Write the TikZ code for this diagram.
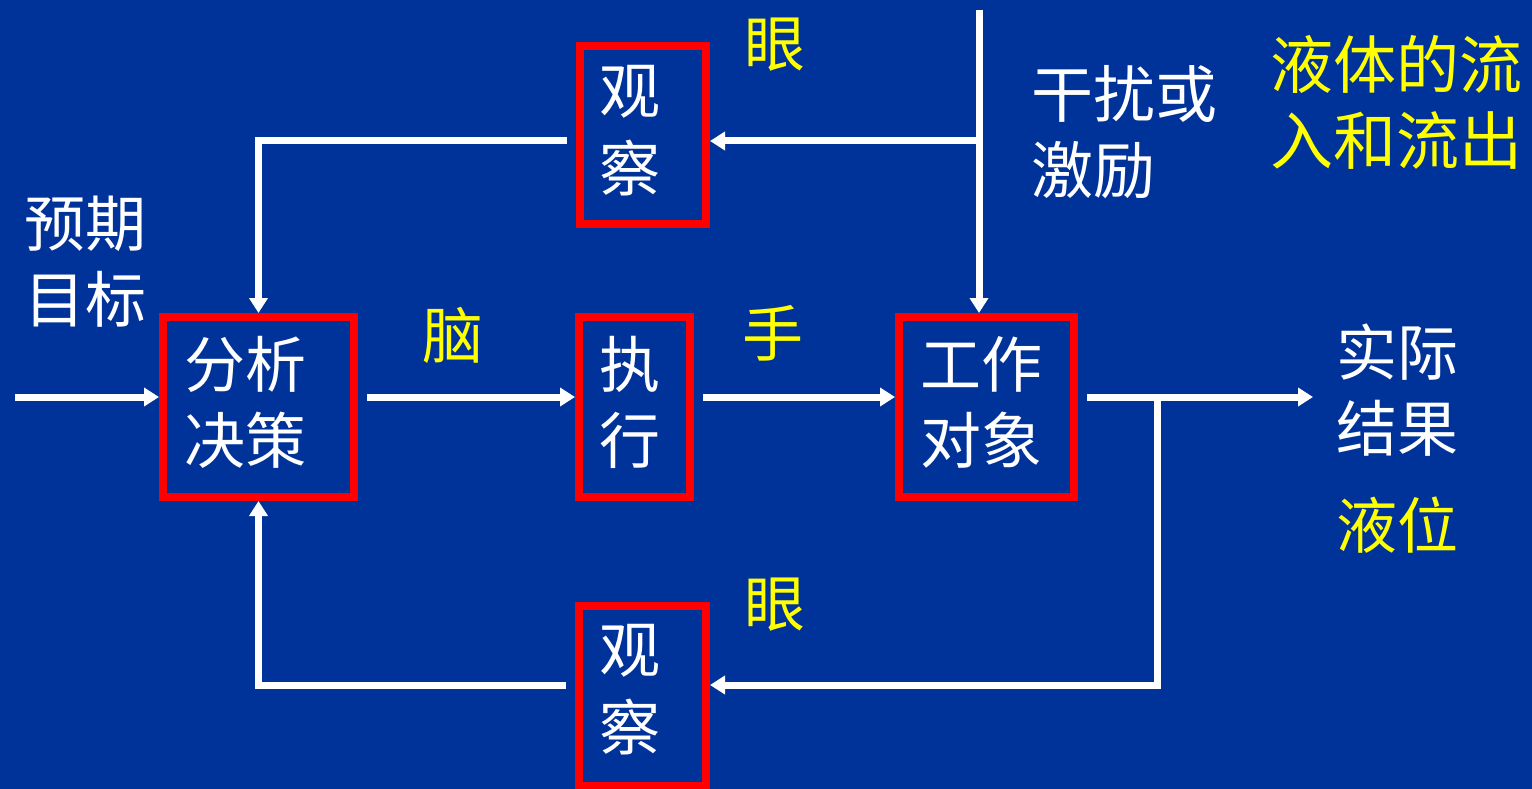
\documentclass[tikz,border=0pt]{standalone}
\usepackage{fontspec}
\newfontfamily\cjk{Noto Sans CJK SC}
\usetikzlibrary{arrows.meta}
\definecolor{bgblue}{HTML}{003399}
\definecolor{boxred}{HTML}{FF0000}
\definecolor{txtyellow}{HTML}{FFFF00}
\tikzset{
  redbox/.style={draw=boxred, line width=8pt, rectangle, inner sep=0pt},
  wline/.style={draw=white, line width=7pt, line join=miter},
  warrow/.style={wline, -{Triangle[length=15pt,width=18pt]}},
  wtext/.style={text=white, font=\cjk\fontsize{61}{76}\selectfont, inner sep=0pt},
  ytext/.style={text=txtyellow, font=\cjk\fontsize{61}{76}\selectfont, inner sep=0pt},
}
\begin{document}
\begin{tikzpicture}[x=1pt,y=-1pt]
\fill[bgblue] (0,0) rectangle (1532,789);
\useasboundingbox (0,0) rectangle (1532,789);
% boxes
\node[redbox, minimum width=191pt, minimum height=180pt] (fx) at (258.5,407) {};
\node[redbox, minimum width=111pt, minimum height=180pt] (zx) at (634.5,407) {};
\node[redbox, minimum width=175pt, minimum height=180pt] (gz) at (986.5,407) {};
\node[redbox, minimum width=126pt, minimum height=178pt] (gc1) at (643,135) {};
\node[redbox, minimum width=127pt, minimum height=180pt] (gc2) at (642.5,696) {};
% coordinates
\coordinate (in) at (15,397);
\coordinate (out) at (1313,397);
\coordinate (br) at (1157,397);
\coordinate (br2) at (1157,685);
\coordinate (dtop) at (979,10);
\coordinate (dmid) at (979,141);
% connectors
\draw[warrow] (in) -- (in -| fx.west);
\draw[warrow, shorten <=9pt] (fx.east |- in) -- (zx.west |- in);
\draw[warrow, shorten <=9pt] (zx.east |- in) -- (gz.west |- in);
\draw[warrow, shorten <=9pt] (gz.east |- in) -- (out);
\draw[warrow] (br) -- (br2) -- (br2 -| gc2.east);
\draw[warrow, shorten <=9pt] (gc2.west |- br2) -| (fx.south);
\draw[warrow] (dtop) -- (dtop |- gz.north);
\draw[warrow] (dmid) -- (dmid -| gc1.east);
\draw[warrow, shorten <=9pt] (gc1.west |- dmid) -| (fx.north);
% texts
\node[wtext, align=center] (tfx) at (245,402) {分析\\决策};
\node[wtext, align=center] (tzx) at (630,402) {执\\行};
\node[wtext, align=center] (tgz) at (981,402) {工作\\对象};
\node[wtext, align=center, font=\cjk\fontsize{61}{78}\selectfont] (tgc1) at (630,131) {观\\察};
\node[wtext, align=center, font=\cjk\fontsize{61}{78}\selectfont] (tgc2) at (630,690) {观\\察};
\node[ytext] (yan1) at (775,45) {眼};
\node[ytext] (yan2) at (775,605) {眼};
\node[ytext] (nao) at (453,335) {脑};
\node[ytext] (shou) at (773,333) {手};
\node[wtext, align=left, anchor=west, font=\cjk\fontsize{62}{76}\selectfont] (gr) at (1031,132) {干扰或\\激励};
\node[ytext, align=left, anchor=west, font=\cjk\fontsize{63}{76}\selectfont] (yt) at (1270,102) {液体的流\\入和流出};
\node[wtext, align=left, anchor=west] (yq) at (24,262) {预期\\目标};
\node[wtext, align=left, anchor=west] (sj) at (1336,390) {实际\\结果};
\node[ytext, anchor=west] (yw) at (1336,525) {液位};
\end{tikzpicture}
\end{document}
